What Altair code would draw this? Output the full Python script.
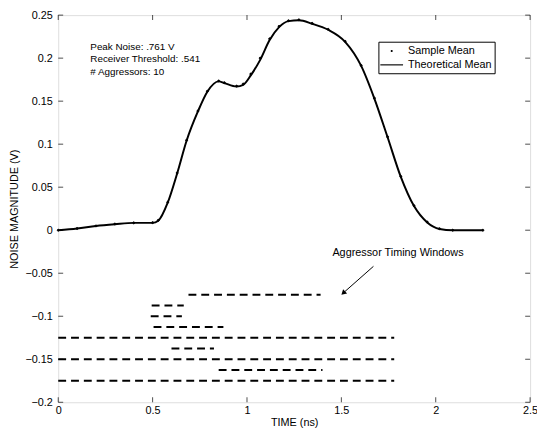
import altair as alt
import pandas as pd

FONT = "Liberation Sans"

# Theoretical mean curve (TIME ns, NOISE V)
theo_x = [0.0, 0.1, 0.2, 0.3, 0.4, 0.5, 0.53, 0.58, 0.63, 0.68, 0.74, 0.79, 0.85, 0.88,
          0.945, 0.98, 1.02, 1.07, 1.12, 1.17, 1.22, 1.275, 1.345, 1.43, 1.52, 1.605,
          1.675, 1.745, 1.815, 1.885, 1.955, 2.02, 2.09, 2.25]
theo_y = [0.0, 0.002, 0.005, 0.007, 0.0085, 0.0085, 0.011, 0.032, 0.066, 0.104, 0.138,
          0.161, 0.173, 0.171, 0.167, 0.169, 0.180, 0.198, 0.221, 0.236, 0.243, 0.244,
          0.240, 0.233, 0.219, 0.191, 0.153, 0.108, 0.062, 0.028, 0.009, 0.0015, 0.0, 0.0]

# Sample mean points
samp_x = [0.0, 0.1, 0.2, 0.3, 0.4, 0.5, 0.53, 0.58, 0.63, 0.68, 0.74, 0.79, 0.85, 0.88,
          0.945, 0.98, 1.02, 1.07, 1.12, 1.17, 1.22, 1.275, 1.345, 1.43, 1.52, 1.605,
          1.675, 1.745, 1.815, 1.885, 1.955, 2.02, 2.09, 2.25]
samp_y = [0.0, 0.002, 0.005, 0.0072, 0.0085, 0.0088, 0.0115, 0.0325, 0.0665, 0.1045, 0.1385,
          0.1615, 0.1735, 0.1715, 0.1675, 0.1700, 0.1815, 0.2000, 0.2225, 0.2370, 0.2435, 0.2445,
          0.2405, 0.2335, 0.2195, 0.1915, 0.1535, 0.1085, 0.0625, 0.0285, 0.0095, 0.0018, 0.0, 0.0]

# Aggressor timing windows
win_start = [0.69, 0.495, 0.49, 0.505, 0.0, 0.60, 0.0, 0.85, 0.0]
win_end = [1.39, 0.665, 0.655, 0.875, 1.78, 0.825, 1.78, 1.40, 1.78]
win_level = [-0.075, -0.0875, -0.1, -0.1125, -0.125, -0.1375, -0.15, -0.1625, -0.175]

info_lines = ["Peak Noise: .761 V", "Receiver Threshold: .541", "# Aggressors: 10"]
info_y = [0.213, 0.199, 0.184]
info_x = [0.17, 0.17, 0.17]

legend_labels = ["Sample Mean", "Theoretical Mean"]
# symbol shapes: a small dot and a thin horizontal bar (drawn as a filled sliver)
legend_shapes = ["M-0.18,0A0.18,0.18,0,1,0,0.18,0A0.18,0.18,0,1,0,-0.18,0Z",
                 "M-2,-0.1L2,-0.1L2,0.1L-2,0.1Z"]

x_ticks = [0, 0.5, 1, 1.5, 2, 2.5]
y_ticks = [-0.2, -0.15, -0.1, -0.05, 0, 0.05, 0.1, 0.15, 0.2, 0.25]
x_min, x_max = 0, 2.5
y_min, y_max = -0.2, 0.25

arrow_from = (1.67, -0.042)
arrow_to = (1.51, -0.073)
label_pos = (1.80, -0.027)

theo = pd.DataFrame({"t": theo_x, "v": theo_y, "series": "Theoretical Mean"})
samp = pd.DataFrame({"t": samp_x, "v": samp_y, "series": "Sample Mean"})
wins = pd.DataFrame({"s": win_start, "e": win_end, "v": win_level})
info = pd.DataFrame({"t": info_x, "v": info_y, "txt": info_lines})
arrow = pd.DataFrame({"t": [arrow_from[0]], "v": [arrow_from[1]],
                      "t2": [arrow_to[0]], "v2": [arrow_to[1]]})
lab = pd.DataFrame({"t": [label_pos[0]], "v": [label_pos[1]], "txt": ["Aggressor Timing Windows"]})
xt = pd.DataFrame({"t": x_ticks, "lo": y_min, "hi": y_max})
yt = pd.DataFrame({"v": y_ticks, "lo": x_min, "hi": x_max})

xscale = alt.Scale(domain=[x_min, x_max], nice=False, zero=False)
yscale = alt.Scale(domain=[y_min, y_max], nice=False, zero=False)

common = dict(ticks=False, domain=False, grid=False,
              labelFont=FONT, labelFontSize=11, labelColor="black", titleFont=FONT,
              titleFontSize=11, titleColor="black", titleFontWeight="normal")

x_axis_bottom = alt.Axis(values=x_ticks, format="~g", title="TIME (ns)", labelPadding=2,
                         titlePadding=2, labelFlush=False, **common)
y_axis_left = alt.Axis(values=y_ticks, format="~g", title="NOISE MAGNITUDE (V)", labelPadding=6,
                       titlePadding=6, labelFlush=False, **common)


def X(f):
    return alt.X(f, scale=xscale, axis=None)


def Y(f):
    return alt.Y(f, scale=yscale, axis=None)


line = alt.Chart(theo).mark_line(color="black", strokeWidth=2, interpolate="monotone").encode(
    x=alt.X("t:Q", scale=xscale, axis=x_axis_bottom),
    y=alt.Y("v:Q", scale=yscale, axis=y_axis_left),
)

leg = alt.Legend(title=None, orient="none", legendX=325, legendY=27, strokeColor="black",
                 fillColor="white", padding=3, labelFont=FONT, labelFontSize=11,
                 labelColor="black", symbolStrokeColor="black", symbolFillColor="black",
                 symbolStrokeWidth=0.5, symbolSize=133, symbolOffset=4, rowPadding=2,
                 labelOffset=10, cornerRadius=0)

points = alt.Chart(samp).mark_point(filled=True, color="black", fill="black", stroke="black",
                                    strokeWidth=0.8, opacity=1, size=133).encode(
    x=X("t:Q"),
    y=Y("v:Q"),
    shape=alt.Shape("series:N", scale=alt.Scale(domain=legend_labels, range=legend_shapes),
                    legend=leg),
)

windows = alt.Chart(wins).mark_rule(color="black", strokeWidth=2, strokeDash=[8, 5]).encode(
    x=X("s:Q"), x2="e:Q", y=Y("v:Q"),
)

info_text = alt.Chart(info).mark_text(align="left", baseline="middle", font=FONT, fontSize=10,
                                      color="black").encode(
    x=X("t:Q"), y=Y("v:Q"), text="txt:N",
)

label_text = alt.Chart(lab).mark_text(align="center", baseline="middle", font=FONT, fontSize=11,
                                      color="black").encode(
    x=X("t:Q"), y=Y("v:Q"), text="txt:N",
)

arrow_line = alt.Chart(arrow).mark_rule(color="black", strokeWidth=1).encode(
    x=X("t:Q"), y=Y("v:Q"), x2="t2:Q", y2="v2:Q",
)

arrow_head = alt.Chart(arrow).mark_point(shape="triangle-up", filled=True, color="black",
                                         size=35, angle=227, opacity=1).encode(
    x=X("t2:Q"), y=Y("v2:Q"),
)

# inward tick marks on all four sides of the frame
tick_style = dict(color="black", thickness=1, size=5)
tick_bottom = alt.Chart(xt).mark_tick(orient="vertical", yOffset=-2.5, **tick_style).encode(
    x=X("t:Q"), y=Y("lo:Q"))
tick_top = alt.Chart(xt).mark_tick(orient="vertical", yOffset=2.5, **tick_style).encode(
    x=X("t:Q"), y=Y("hi:Q"))
tick_left = alt.Chart(yt).mark_tick(orient="horizontal", xOffset=2.5, **tick_style).encode(
    y=Y("v:Q"), x=X("lo:Q"))
tick_right = alt.Chart(yt).mark_tick(orient="horizontal", xOffset=-2.5, **tick_style).encode(
    y=Y("v:Q"), x=X("hi:Q"))

chart = alt.layer(line, points, windows, info_text, label_text, arrow_line, arrow_head,
                  tick_bottom, tick_top, tick_left, tick_right).resolve_axis(
    x="independent", y="independent"
).properties(
    width=479, height=393,
    autosize=alt.AutoSizeParams(type="none"),
    padding={"left": 51, "top": 4, "right": 7, "bottom": 30},
).configure_view(stroke="black", strokeWidth=1).configure_legend(
    strokeWidth=1
).configure(background="white")

chart.save("out.html", embed_options={"renderer": "svg", "actions": False})
